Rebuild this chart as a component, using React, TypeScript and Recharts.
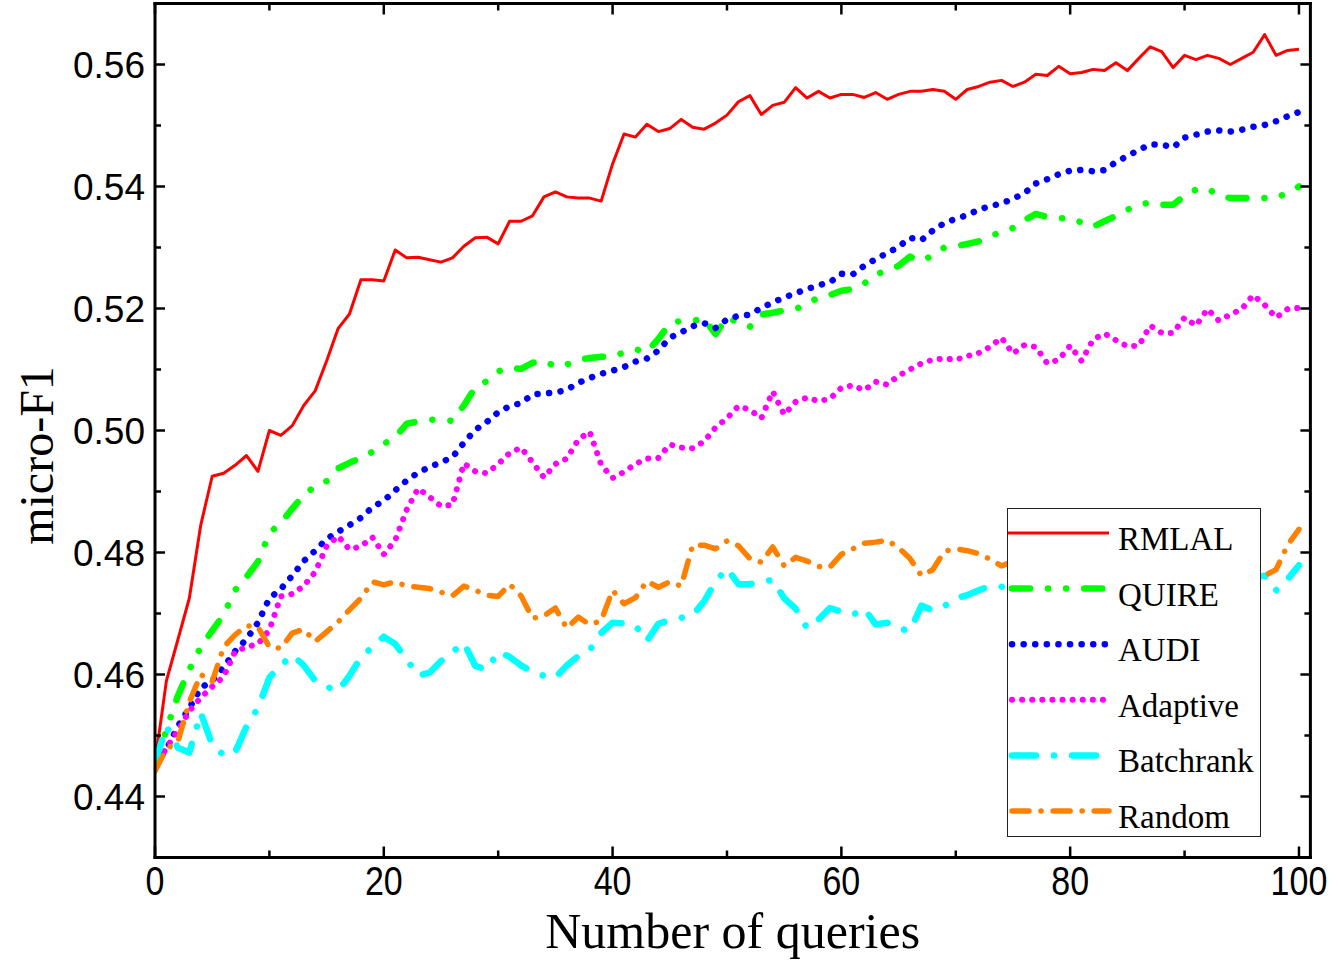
import { LineChart, Line, XAxis, YAxis, Legend } from 'recharts';

// number of queries (x axis)
const queries = [
  0, 1, 2, 3, 4, 5, 6, 7, 8, 9, 10, 11, 12, 13, 14, 15, 16, 17, 18, 19, 20,
  21, 22, 23, 24, 25, 26, 27, 28, 29, 30, 31, 32, 33, 34, 35, 36, 37, 38, 39, 40,
  41, 42, 43, 44, 45, 46, 47, 48, 49, 50, 51, 52, 53, 54, 55, 56, 57, 58, 59, 60,
  61, 62, 63, 64, 65, 66, 67, 68, 69, 70, 71, 72, 73, 74, 75, 76, 77, 78, 79, 80,
  81, 82, 83, 84, 85, 86, 87, 88, 89, 90, 91, 92, 93, 94, 95, 96, 97, 98, 99, 100,
];

const rmlal = [
  0.4455, 0.459, 0.4657, 0.4725, 0.4845, 0.4925, 0.493, 0.4943, 0.4959, 0.4933,
  0.5, 0.4992, 0.5008, 0.5041, 0.5065, 0.5114, 0.5167, 0.5191, 0.5247, 0.5247,
  0.5245, 0.5296, 0.5283, 0.5284, 0.528, 0.5276, 0.5283, 0.5302, 0.5316, 0.5317,
  0.5306, 0.5343, 0.5343, 0.5352, 0.5383, 0.5391, 0.5383, 0.5381, 0.5381, 0.5376,
  0.5437, 0.5486, 0.5481, 0.5502, 0.549, 0.5495, 0.551, 0.5497, 0.5494, 0.5504,
  0.5517, 0.5539, 0.5549, 0.5518, 0.5533, 0.5538, 0.5562, 0.5545, 0.5556, 0.5545,
  0.5551, 0.5551, 0.5546, 0.5554, 0.5543, 0.5551, 0.5556, 0.5556, 0.5559, 0.5556,
  0.5543, 0.5559, 0.5564, 0.5571, 0.5574, 0.5564, 0.5571, 0.5584, 0.5582, 0.5597,
  0.5585, 0.5587, 0.5592, 0.559, 0.5603, 0.559, 0.561, 0.5629, 0.5621, 0.5595,
  0.5615, 0.5608, 0.5615, 0.561, 0.56, 0.561, 0.562, 0.5649, 0.5615, 0.5623,
  0.5625,
];

const quire = [
  0.4445, 0.451, 0.4565, 0.4608, 0.4645, 0.4672, 0.4698, 0.4738, 0.476, 0.4785,
  0.4832, 0.4848, 0.4872, 0.4894, 0.4909, 0.4917, 0.4938, 0.4947, 0.4955, 0.4965,
  0.4978, 0.4989, 0.5011, 0.5015, 0.5018, 0.5017, 0.5016, 0.5041, 0.5071, 0.5081,
  0.5097, 0.5103, 0.5101, 0.5111, 0.5114, 0.5105, 0.5108, 0.5116, 0.5119, 0.5121,
  0.5121, 0.5128, 0.5133, 0.5129, 0.515, 0.5175, 0.518, 0.518, 0.5183, 0.5158,
  0.5185, 0.5177, 0.517, 0.519, 0.5193, 0.5197, 0.5199, 0.5208, 0.5218, 0.5222,
  0.5229, 0.5232, 0.5241, 0.5256, 0.5262, 0.527, 0.5285, 0.5278, 0.5287, 0.53,
  0.5302, 0.5306, 0.531, 0.5318, 0.5326, 0.5332, 0.5345, 0.5355, 0.535, 0.5348,
  0.5348, 0.5341, 0.5334, 0.5343, 0.5352, 0.5362, 0.537, 0.5374, 0.537, 0.537,
  0.5385, 0.5395, 0.5397, 0.5385, 0.5381, 0.5381, 0.5381, 0.5381, 0.5381, 0.539,
  0.54,
];

const audi = [
  0.4455, 0.4477, 0.4515, 0.4545, 0.4578, 0.459, 0.4612, 0.4638, 0.4658, 0.4685,
  0.4725, 0.474, 0.4762, 0.4786, 0.4803, 0.4822, 0.4834, 0.4845, 0.4857, 0.4874,
  0.4885, 0.4902, 0.4918, 0.4931, 0.494, 0.4948, 0.4956, 0.498, 0.5001, 0.5014,
  0.503, 0.504, 0.5045, 0.5059, 0.5061, 0.5062, 0.5067, 0.5078, 0.5086, 0.5093,
  0.5098, 0.5104, 0.5113, 0.5118, 0.5131, 0.5152, 0.5161, 0.5171, 0.5176, 0.5168,
  0.5182, 0.5188, 0.519, 0.5201, 0.521, 0.5218, 0.5225, 0.5232, 0.5238, 0.5243,
  0.5257, 0.5256, 0.527, 0.5281, 0.5291, 0.5301, 0.5316, 0.5312, 0.5328, 0.534,
  0.5347, 0.5353, 0.5362, 0.5368, 0.5372, 0.538, 0.5389, 0.5405, 0.5412, 0.542,
  0.5426, 0.5427, 0.5425, 0.5427, 0.544, 0.545, 0.546, 0.5469, 0.5469, 0.5464,
  0.548, 0.5485, 0.549, 0.5492, 0.549, 0.5493, 0.5498, 0.5501, 0.5507, 0.5515,
  0.5522,
];

const adaptive = [
  0.4445, 0.448, 0.4508, 0.454, 0.4562, 0.458, 0.4596, 0.4638, 0.4645, 0.465,
  0.4673, 0.4728, 0.4732, 0.4745, 0.4768, 0.481, 0.4827, 0.4805, 0.481, 0.4825,
  0.4797, 0.482, 0.487, 0.4905, 0.4891, 0.4876, 0.4878, 0.4946, 0.4933, 0.493,
  0.4945, 0.4963, 0.4972, 0.4948, 0.4923, 0.4945, 0.4954, 0.4985, 0.4998, 0.4944,
  0.4922, 0.4932, 0.4945, 0.4954, 0.4955, 0.4977, 0.4972, 0.4971, 0.4982, 0.5005,
  0.502, 0.504, 0.5034, 0.502, 0.5064, 0.5026, 0.5047, 0.5054, 0.5048, 0.5052,
  0.507, 0.5074, 0.5066, 0.508, 0.5075, 0.509, 0.51, 0.511, 0.5116, 0.5118,
  0.5116, 0.5122, 0.5127, 0.5137, 0.5152, 0.5126, 0.514, 0.5137, 0.511, 0.5116,
  0.5139, 0.5114, 0.5149, 0.5159, 0.5148, 0.5138, 0.5139, 0.5172, 0.516, 0.516,
  0.5185, 0.5172, 0.5199, 0.518, 0.519, 0.5199, 0.5222, 0.5206, 0.5185, 0.5199,
  0.5201,
];

const batchrank = [
  0.4455, 0.4515, 0.448, 0.4472, 0.4537, 0.4485, 0.4468, 0.4472, 0.4515, 0.4545,
  0.4595, 0.4615, 0.4632, 0.4615, 0.459, 0.458, 0.4573, 0.4598, 0.4628, 0.4645,
  0.4662, 0.465, 0.4625, 0.4598, 0.4603, 0.4622, 0.4637, 0.4652, 0.4614, 0.4608,
  0.4637, 0.4629, 0.4615, 0.4604, 0.4598, 0.4595, 0.4615, 0.463, 0.464, 0.4668,
  0.4685, 0.4684, 0.468, 0.4655, 0.4683, 0.4689, 0.4693, 0.4697, 0.472, 0.4752,
  0.4774, 0.4748, 0.4748, 0.4752, 0.4755, 0.4725, 0.4708, 0.4676, 0.469, 0.4709,
  0.4703, 0.4698, 0.4708, 0.4682, 0.4685, 0.4675, 0.4672, 0.4713, 0.4705, 0.4712,
  0.4725, 0.473, 0.4738, 0.4745, 0.4744, 0.4738, 0.4746, 0.4752, 0.4741, 0.4735,
  0.4748, 0.4755, 0.4749, 0.4742, 0.4738, 0.4745, 0.4752, 0.4758, 0.475, 0.4744,
  0.4739, 0.4747, 0.4754, 0.476, 0.4753, 0.4748, 0.4758, 0.4762, 0.4738, 0.4756,
  0.4779,
];

const random = [
  0.4442, 0.4478, 0.449, 0.4555, 0.46, 0.4588, 0.4645, 0.4665, 0.468, 0.4678,
  0.4645, 0.4643, 0.4668, 0.4674, 0.4654, 0.467, 0.4686, 0.4706, 0.4725, 0.4752,
  0.4747, 0.4752, 0.4745, 0.4743, 0.4741, 0.4735, 0.4729, 0.4745, 0.4738, 0.473,
  0.4728, 0.4748, 0.4729, 0.4692, 0.4696, 0.4709, 0.4676, 0.4694, 0.4682, 0.4688,
  0.4738, 0.4716, 0.4726, 0.4753, 0.4743, 0.4752, 0.4745, 0.4812, 0.4812, 0.4806,
  0.4819, 0.4811, 0.479, 0.4784, 0.4809, 0.4778, 0.4792, 0.4786, 0.4777, 0.4776,
  0.4797, 0.4806, 0.4815, 0.4817, 0.482, 0.4808, 0.479, 0.4762, 0.4772, 0.4802,
  0.4806, 0.4803, 0.4798, 0.4789, 0.4778, 0.4785, 0.4792, 0.4781, 0.4788, 0.4795,
  0.479, 0.4783, 0.478, 0.4787, 0.4794, 0.4799, 0.4791, 0.4785, 0.4782, 0.4779,
  0.4788, 0.4784, 0.4777, 0.4781, 0.4775, 0.4772, 0.4776, 0.4762, 0.4772, 0.4812,
  0.4838,
];

const xTicks = [0, 10, 20, 30, 40, 50, 60, 70, 80, 90, 100];
const yTicks = [0.44, 0.45, 0.46, 0.47, 0.48, 0.49, 0.5, 0.51, 0.52, 0.53, 0.54, 0.55, 0.56];

const series = [
  { key: 'rmlal', name: 'RMLAL', color: '#ff0000', width: 3, dash: undefined as string | undefined },
  { key: 'quire', name: 'QUIRE', color: '#00ff00', width: 6.5, dash: '18 18 0.1 18 0.1 18' },
  { key: 'audi', name: 'AUDI', color: '#0000ff', width: 6.5, dash: '0.1 11.5' },
  { key: 'adaptive', name: 'Adaptive', color: '#ff00ff', width: 6, dash: '0.1 10' },
  { key: 'batchrank', name: 'Batchrank', color: '#00ffff', width: 6.5, dash: '24 18 0.1 18' },
  { key: 'random', name: 'Random', color: '#ff8000', width: 5.5, dash: '17 12 0.1 12' },
];

const rows = queries.map((q, i) => ({
  q,
  rmlal: rmlal[i],
  quire: quire[i],
  audi: audi[i],
  adaptive: adaptive[i],
  batchrank: batchrank[i],
  random: random[i],
}));

const SANS = '"Liberation Sans", Arial, sans-serif';
const SERIF = '"Liberation Serif", "Times New Roman", serif';

const isMajorX = (v: number) => v % 20 === 0;
const isMajorY = (v: number) => Math.round(v * 100) % 2 === 0;

function BottomTick(props: any) {
  const { x, y, payload } = props;
  const major = isMajorX(payload.value);
  return (
    <g>
      <line x1={x} x2={x} y1={y} y2={y - (major ? 11 : 7)} stroke="#000" strokeWidth={2.5} />
      {major && (
        <text
          transform={`translate(${x},${y + 37.5}) scale(0.85,1)`}
          textAnchor="middle"
          fontFamily={SANS}
          fontSize={40}
          fill="#000"
        >
          {payload.value}
        </text>
      )}
    </g>
  );
}

function TopTick(props: any) {
  const { x, y, payload } = props;
  const major = isMajorX(payload.value);
  return <line x1={x} x2={x} y1={y} y2={y + (major ? 11 : 7)} stroke="#000" strokeWidth={2.5} />;
}

function LeftTick(props: any) {
  const { x, y, payload } = props;
  const major = isMajorY(payload.value);
  return (
    <g>
      <line x1={x} x2={x + (major ? 10 : 6)} y1={y} y2={y} stroke="#000" strokeWidth={2.5} />
      {major && (
        <text x={x - 10} y={y + 13.3} textAnchor="end" fontFamily={SANS} fontSize={37} fill="#000">
          {payload.value.toFixed(2)}
        </text>
      )}
    </g>
  );
}

function RightTick(props: any) {
  const { x, y, payload } = props;
  const major = isMajorY(payload.value);
  return <line x1={x} x2={x - (major ? 10 : 6)} y1={y} y2={y} stroke="#000" strokeWidth={2.5} />;
}

function LegendBox() {
  return (
    <div
      style={{
        width: 254,
        height: 329,
        border: '1.5px solid #222',
        background: '#fff',
        boxSizing: 'border-box',
      }}
    >
      <svg width={251} height={326} style={{ display: 'block' }}>
        {series.map((s, i) => {
          const cy = 24 + i * 55.6;
          return (
            <g key={s.key}>
              <line
                x1={s.dash ? 4 : 0}
                x2={101}
                y1={cy}
                y2={cy}
                stroke={s.color}
                strokeWidth={s.width}
                strokeDasharray={s.dash}
                strokeLinecap={s.dash ? 'round' : 'butt'}
              />
              <text x={110} y={cy + 17} fontFamily={SERIF} fontSize={33} fill="#000">
                {s.name}
              </text>
            </g>
          );
        })}
      </svg>
    </div>
  );
}

const axisLineStyle = { stroke: '#000', strokeWidth: 3, strokeLinecap: 'square' as const };

export default function App() {
  return (
    <div style={{ position: 'absolute', left: 0, top: 0, background: '#fff' }}>
      <LineChart width={1338} height={963} data={rows} margin={{ top: 2.5, right: 26.6, bottom: 0, left: 0 }}>
        <XAxis
          dataKey="q"
          type="number"
          domain={[0, 101]}
          allowDataOverflow
          ticks={xTicks}
          interval={0}
          height={105.5}
          tickSize={0}
          tickMargin={0}
          tickLine={false}
          axisLine={axisLineStyle}
          tick={(p: any) => <BottomTick {...p} />}
          label={{
            content: (p: any) => {
              const vb = p.viewBox;
              return (
                <text
                  x={vb.x + vb.width / 2}
                  y={vb.y + 90.5}
                  textAnchor="middle"
                  fontFamily={SERIF}
                  fontSize={50}
                  fill="#000"
                >
                  Number of queries
                </text>
              );
            },
          }}
        />
        <XAxis
          xAxisId="top"
          orientation="top"
          dataKey="q"
          type="number"
          domain={[0, 101]}
          allowDataOverflow
          ticks={xTicks}
          interval={0}
          height={1}
          tickSize={0}
          tickMargin={0}
          tickLine={false}
          axisLine={axisLineStyle}
          tick={(p: any) => <TopTick {...p} />}
        />
        <YAxis
          type="number"
          domain={[0.43, 0.57]}
          allowDataOverflow
          ticks={yTicks}
          interval={0}
          width={155}
          tickSize={0}
          tickMargin={0}
          tickLine={false}
          axisLine={axisLineStyle}
          tick={(p: any) => <LeftTick {...p} />}
          label={{
            content: (p: any) => {
              const vb = p.viewBox;
              const cx = 53;
              const cy = vb.y + vb.height / 2 + 25;
              return (
                <text
                  x={cx}
                  y={cy}
                  transform={`rotate(-90, ${cx}, ${cy})`}
                  textAnchor="middle"
                  fontFamily={SERIF}
                  fontSize={48}
                  fill="#000"
                >
                  micro-F1
                </text>
              );
            },
          }}
        />
        <YAxis
          yAxisId="right"
          orientation="right"
          type="number"
          domain={[0.43, 0.57]}
          allowDataOverflow
          ticks={yTicks}
          interval={0}
          width={1}
          tickSize={0}
          tickMargin={0}
          tickLine={false}
          axisLine={axisLineStyle}
          tick={(p: any) => <RightTick {...p} />}
        />
        {/* invisible series so the mirrored top/right axes get their ticks */}
        <Line
          xAxisId="top"
          yAxisId="right"
          dataKey="rmlal"
          stroke="none"
          dot={false}
          activeDot={false}
          legendType="none"
          isAnimationActive={false}
        />
        {series.map((s) => (
          <Line
            key={s.key}
            dataKey={s.key}
            name={s.name}
            type="linear"
            stroke={s.color}
            strokeWidth={s.width}
            strokeDasharray={s.dash}
            strokeLinecap={s.dash ? 'round' : 'butt'}
            strokeLinejoin="round"
            dot={false}
            activeDot={false}
            isAnimationActive={false}
          />
        ))}
        <Legend
          layout="vertical"
          align="center"
          verticalAlign="middle"
          content={() => <LegendBox />}
          wrapperStyle={{ left: 1007, top: 508, width: 254, height: 329 }}
        />
      </LineChart>
    </div>
  );
}
